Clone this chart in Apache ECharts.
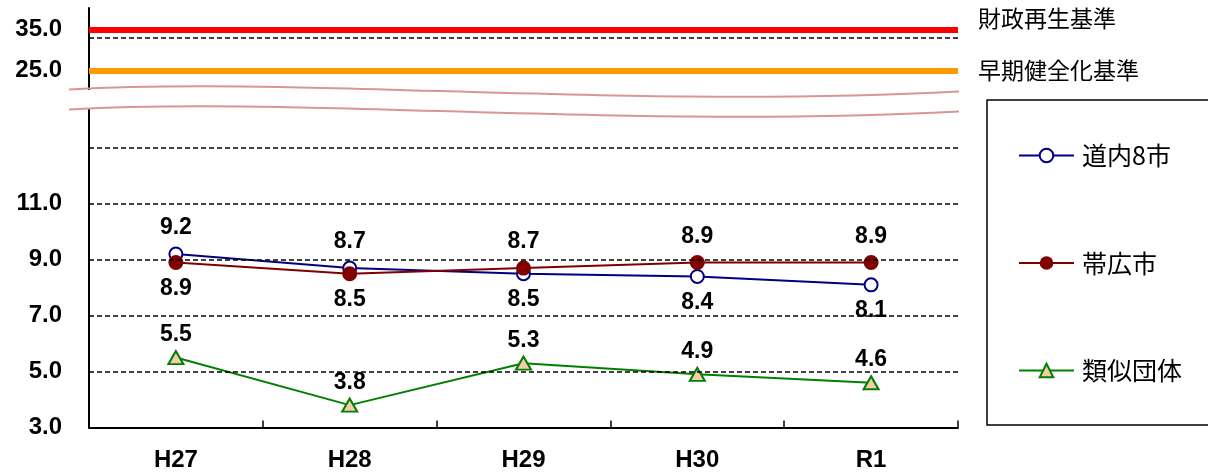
<!DOCTYPE html>
<html><head><meta charset="utf-8">
<script src="https://cdn.jsdelivr.net/npm/echarts@6/dist/echarts.min.js"></script>
<style>html,body{margin:0;padding:0;background:#fff}#c{width:1208px;height:474px}</style>
</head><body><div id="c"></div>
<script>
const categories = ['H27', 'H28', 'H29', 'H30', 'R1'];
const seriesNames = ['道内8市', '帯広市', '類似団体'];
const douNai8 = [9.2, 8.7, 8.5, 8.4, 8.1];
const obihiro = [8.9, 8.5, 8.7, 8.9, 8.9];
const ruiji = [5.5, 3.8, 5.3, 4.9, 4.6];
const lowerTicks = [3, 5, 7, 9, 11];
const upperTicks = [25, 35];
const gridValues = [5, 7, 9, 11, 13, 33];
const zaiseiSaisei = 35;   // 財政再生基準
const sokiKenzenka = 25;   // 早期健全化基準
const refNames = ['財政再生基準', '早期健全化基準'];

// broken axis: 3..13 linear, upper part (25..35) compressed above the break
function toDisplay(v) { return v <= 14 ? v : 15.77 + (v - 25) * 0.145; }
function fromDisplay(d) { return d <= 14 ? d : Math.round(25 + (d - 15.77) / 0.145); }

const numFont = 'Liberation Sans';
const jpFont = 'Noto Sans CJK JP';

function labelled(arr, other) {
  return arr.map((v, i) => ({ value: v, label: { position: (other && v < other[i]) ? 'bottom' : 'top' } }));
}
const dataLabel = { show: true, color: '#000', fontSize: 23, fontWeight: 'bold', fontFamily: numFont, distance: 7 };

const chart = echarts.init(document.getElementById('c'));
chart.setOption({
  animation: false,
  backgroundColor: '#fff',
  grid: { left: 89, right: 250, top: 8, bottom: 46.5, outerBoundsMode: 'none' },
  xAxis: {
    type: 'category', data: categories, boundaryGap: true,
    axisLine: { lineStyle: { color: '#000', width: 2 } },
    axisTick: { show: true, inside: true, length: 7, lineStyle: { color: '#000', width: 1.5 } },
    axisLabel: { color: '#000', fontSize: 24, fontWeight: 'bold', fontFamily: numFont, margin: 21 }
  },
  yAxis: {
    type: 'value', min: 3, max: 18,
    splitLine: { show: false },
    axisTick: { show: false },
    axisLine: { show: true, lineStyle: { color: '#000', width: 2 } },
    axisLabel: {
      customValues: lowerTicks.concat(upperTicks).map(toDisplay),
      formatter: v => fromDisplay(v).toFixed(1),
      color: '#000', fontSize: 24, fontWeight: 'bold', fontFamily: numFont, margin: 27
    }
  },
  legend: {
    data: seriesNames, orient: 'vertical', left: 987, top: 100,
    padding: [43, 10, 42, 31], itemGap: 82.5, itemWidth: 55, itemHeight: 17,
    borderWidth: 0,
    selectedMode: false,
    textStyle: { fontSize: 25, lineHeight: 25, fontFamily: jpFont, color: '#000', padding: [0, 0, 0, 3] }
  },
  series: [
    {
      name: '_ref', type: 'line', data: [], silent: true, z: 1,
      markLine: {
        silent: true, symbol: 'none', animation: false,
        data: gridValues.map(v => ({
          yAxis: toDisplay(v), label: { show: false },
          lineStyle: { color: '#000', width: 1.5, type: [5, 3] }
        })).concat([
          { yAxis: toDisplay(sokiKenzenka),
            lineStyle: { color: '#FF9900', width: 6, type: 'solid' },
            label: { show: true, position: 'end', formatter: refNames[1], distance: 20, color: '#000', fontSize: 23, fontFamily: jpFont } },
          { yAxis: toDisplay(zaiseiSaisei),
            lineStyle: { color: '#FF0000', width: 6, type: 'solid' },
            label: { show: true, position: 'end', formatter: refNames[0], distance: 20, offset: [0, -12], color: '#000', fontSize: 23, fontFamily: jpFont } }
        ])
      }
    },
    {
      name: seriesNames[0], type: 'line', z: 3,
      data: labelled(douNai8, obihiro),
      symbol: 'circle', symbolSize: 13,
      itemStyle: { color: '#fff', borderColor: '#000080', borderWidth: 2 },
      lineStyle: { color: '#000080', width: 2 },
      label: dataLabel, emphasis: { disabled: true }
    },
    {
      name: seriesNames[1], type: 'line', z: 3,
      data: labelled(obihiro, douNai8),
      symbol: 'circle', symbolSize: 15,
      itemStyle: { color: '#800000' },
      lineStyle: { color: '#800000', width: 2 },
      label: dataLabel, emphasis: { disabled: true }
    },
    {
      name: seriesNames[2], type: 'line', z: 3,
      data: labelled(ruiji, null),
      symbol: 'triangle', symbolSize: [15, 13],
      itemStyle: { color: '#F8CBAD', borderColor: '#008000', borderWidth: 2 },
      lineStyle: { color: '#008000', width: 2 },
      label: Object.assign({}, dataLabel, { distance: 4 }), emphasis: { disabled: true }
    }
  ],
  graphic: [
    { type: 'rect', z: 50, silent: true, shape: { x: 987, y: 100, width: 300, height: 325 },
      style: { fill: null, stroke: '#000', lineWidth: 1.5 } },
    { type: 'rect', z: 100, shape: { x: 82, y: 90, width: 14, height: 18 }, style: { fill: '#fff' } },
    { type: 'bezierCurve', z: 101, shape: { x1: 69, y1: 89.5, cpx1: 300, cpy1: 76, cpx2: 620, cpy2: 109, x2: 959, y2: 91.5 },
      style: { stroke: '#D99694', lineWidth: 2, fill: null } },
    { type: 'bezierCurve', z: 101, shape: { x1: 69, y1: 109.5, cpx1: 300, cpy1: 96, cpx2: 620, cpy2: 129, x2: 959, y2: 111.5 },
      style: { stroke: '#D99694', lineWidth: 2, fill: null } }
  ]
});
</script>
</body></html>
